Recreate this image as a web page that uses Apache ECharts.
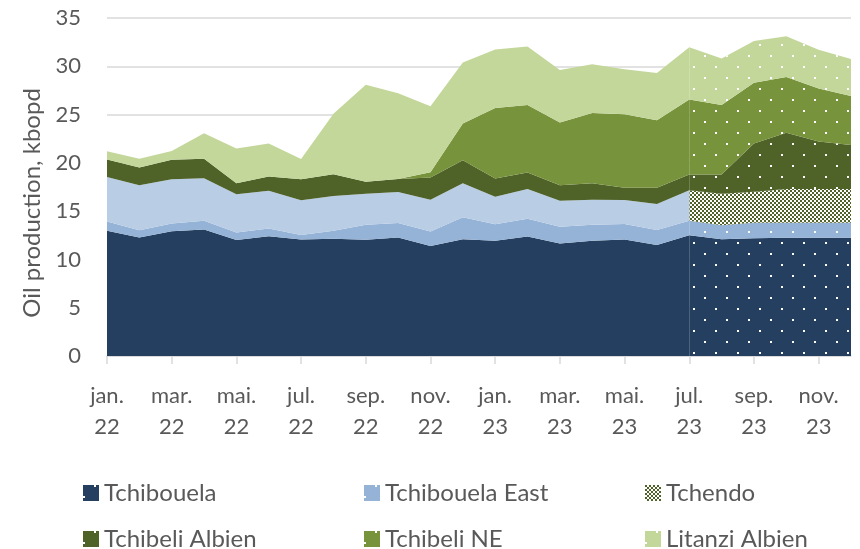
<!DOCTYPE html>
<html>
<head>
<meta charset="utf-8">
<script src="https://cdn.jsdelivr.net/npm/echarts@6/dist/echarts.min.js"></script>
<style>
html, body { margin: 0; padding: 0; background: #fff; }
#chart { width: 860px; height: 549px; }
</style>
</head>
<body>
<div id="chart"></div>
<script>
// months jan. 22 -> des. 23
var months = [
  'jan.\n22', 'feb.\n22', 'mar.\n22', 'apr.\n22', 'mai.\n22', 'jun.\n22',
  'jul.\n22', 'aug.\n22', 'sep.\n22', 'okt.\n22', 'nov.\n22', 'des.\n22',
  'jan.\n23', 'feb.\n23', 'mar.\n23', 'apr.\n23', 'mai.\n23', 'jun.\n23',
  'jul.\n23', 'aug.\n23', 'sep.\n23', 'okt.\n23', 'nov.\n23', 'des.\n23'
];
// first forecast month (jul. 23)
var forecastFrom = 18;

// kbopd per field
var tchibouela = [12.96, 12.28, 12.93, 13.1, 12.0, 12.4, 12.07, 12.14, 12.03, 12.28, 11.38, 12.1,
  11.93, 12.38, 11.66, 11.93, 12.07, 11.5, 12.5, 12.1, 12.2, 12.24, 12.24, 12.24];
var tchibouelaEast = [0.97, 0.75, 0.8, 0.9, 0.8, 0.8, 0.45, 0.83, 1.57, 1.5, 1.5, 2.28,
  1.7, 1.82, 1.72, 1.66, 1.6, 1.54, 1.5, 1.45, 1.6, 1.56, 1.56, 1.56];
var tchendo = [4.6, 4.65, 4.56, 4.4, 3.96, 3.9, 3.6, 3.6, 3.2, 3.2, 3.3, 3.52,
  2.86, 3.08, 2.69, 2.6, 2.48, 2.69, 3.17, 3.25, 3.2, 3.5, 3.5, 3.5];
var tchibeliAlbien = [1.83, 1.85, 2.03, 2.03, 1.14, 1.5, 2.18, 2.26, 1.24, 1.35, 2.3, 2.38,
  1.9, 1.72, 1.62, 1.7, 1.28, 1.69, 1.62, 2.0, 5.0, 5.82, 4.9, 4.55];
var tchibeliNE = [0, 0, 0, 0, 0, 0, 0, 0, 0, 0, 0.55, 3.8,
  7.3, 7.0, 6.5, 7.27, 7.6, 7.0, 7.76, 7.2, 6.3, 5.76, 5.5, 5.07];
var litanziAlbien = [0.83, 0.9, 0.9, 2.63, 3.59, 3.4, 2.1, 6.25, 10.04, 8.88, 6.83, 6.3,
  6.04, 6.04, 5.42, 5.04, 4.66, 4.89, 5.42, 4.8, 4.31, 4.24, 4.01, 3.83];

var names = ['Tchibouela', 'Tchibouela East', 'Tchendo', 'Tchibeli Albien', 'Tchibeli NE', 'Litanzi Albien'];
var values = [tchibouela, tchibouelaEast, tchendo, tchibeliAlbien, tchibeliNE, litanziAlbien];

var textColor = '#595959';
var font = 'Lato, "Liberation Sans", sans-serif';

// white dots on the forecast part
var dots = {
  symbol: 'rect', symbolSize: 1, color: '#ffffff',
  dashArrayX: [[2, 20], [0, 11, 2, 9]],
  dashArrayY: [2, 9]
};
// small checker for Tchendo forecast
var checker = {
  symbol: 'rect', symbolSize: 1, color: '#ffffff',
  dashArrayX: [[2, 2], [0, 2, 2, 0]],
  dashArrayY: [2, 0]
};

var histColors = ['#253f60', '#95b3d7', '#b9cde5', '#4f6228', '#77933c', '#c4d79b'];
var fcColors = ['#253f60', '#95b3d7', '#4f6228', '#4f6228', '#77933c', '#c4d79b'];
var fcDecals = [dots, dots, checker, dots, dots, dots];

function part (arr, from, to) {
  return arr.map(function (v, i) { return (i >= from && i <= to) ? v : '-' })
}

var series = []
// forecast first, so the legend takes its swatch from it
names.forEach(function (n, k) {
  series.push({
    name: n, type: 'line', stack: 'fc', symbol: 'none', silent: true,
    lineStyle: { width: 0 },
    itemStyle: { color: fcColors[k], decal: fcDecals[k] },
    areaStyle: { color: fcColors[k], opacity: 1 },
    data: part(values[k], forecastFrom, months.length - 1)
  })
})
names.forEach(function (n, k) {
  series.push({
    name: n, type: 'line', stack: 'hist', symbol: 'none', silent: true,
    lineStyle: { width: 0 },
    itemStyle: { color: histColors[k] },
    areaStyle: { color: histColors[k], opacity: 1 },
    data: part(values[k], 0, forecastFrom)
  })
})

// one legend per cell: 3 columns x 2 rows
var legendLeft = [83, 364, 645];
var legendTop = [481, 527];
var legends = names.map(function (n, k) {
  return {
    data: [n], left: legendLeft[k % 3], top: legendTop[Math.floor(k / 3)],
    padding: 0, itemWidth: 16, itemHeight: 16, icon: 'rect',
    selectedMode: false,
    textStyle: { fontSize: 24, lineHeight: 24, color: textColor, fontFamily: font }
  }
})

var chart = echarts.init(document.getElementById('chart'))
chart.setOption({
  animation: false,
  textStyle: { fontFamily: font },
  grid: { left: 107, right: 9, top: 18, bottom: 193 },
  legend: legends,
  xAxis: {
    type: 'category',
    data: months,
    boundaryGap: false,
    axisLine: { lineStyle: { color: '#d9d9d9', width: 1.5 } },
    axisTick: { interval: 1, length: 8, lineStyle: { color: '#d9d9d9', width: 1.5 } },
    axisLabel: { interval: 1, margin: 24, fontSize: 22, lineHeight: 31, color: textColor, fontFamily: font }
  },
  yAxis: {
    type: 'value',
    min: 0, max: 35, interval: 5,
    name: 'Oil production, kbopd',
    nameLocation: 'middle',
    nameGap: 58,
    nameTextStyle: { fontSize: 24, color: textColor, fontFamily: font, padding: [0, 32, 0, 0] },
    axisLine: { show: false },
    axisTick: { show: false },
    axisLabel: { margin: 26, fontSize: 22, color: textColor, fontFamily: font },
    splitLine: { lineStyle: { color: '#d9d9d9', width: 1.5 } }
  },
  series: series
})
</script>
</body>
</html>
